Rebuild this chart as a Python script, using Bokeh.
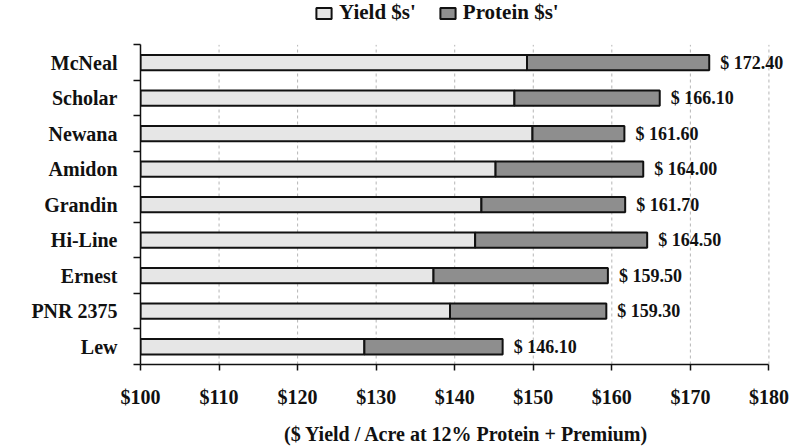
from bokeh.plotting import figure
from bokeh.models import ColumnDataSource, FixedTicker, Range1d, Legend, LegendItem
from bokeh.core.properties import value
from bokeh.embed import file_html
from bokeh.resources import INLINE

varieties = ["McNeal", "Scholar", "Newana", "Amidon", "Grandin", "Hi-Line", "Ernest", "PNR 2375", "Lew"]
yield_vals = [149.2, 147.6, 149.9, 145.2, 143.4, 142.6, 137.3, 139.4, 128.5]
totals = [172.40, 166.10, 161.60, 164.00, 161.70, 164.50, 159.50, 159.30, 146.10]
x_ticks = [100, 110, 120, 130, 140, 150, 160, 170, 180]

FONT = "Liberation Serif"
INK = "#111111"
n = len(varieties)
ypos = [n - 1 - i for i in range(n)]
base = x_ticks[0]
ylo, yhi = -0.5, n - 0.5

src = ColumnDataSource(dict(
    y=ypos,
    base=[base] * n,
    yld=yield_vals,
    tot=totals,
    lab=[f"$ {v:.2f}" for v in totals],
))

p = figure(width=796, height=447, output_backend="svg", toolbar_location=None,
           x_range=Range1d(x_ticks[0], 183.0), y_range=Range1d(ylo, yhi + 1.25),
           min_border_left=140, min_border_right=4, min_border_top=0, min_border_bottom=80)
p.outline_line_color = None
p.background_fill_color = "white"
p.border_fill_color = "white"

# dashed vertical grid lines only within the category area
p.segment(x0=x_ticks[1:], x1=x_ticks[1:], y0=[ylo] * (len(x_ticks) - 1), y1=[yhi] * (len(x_ticks) - 1),
          line_color="#b5b5b5", line_dash="3 3", line_width=1)

r1 = p.hbar(y="y", left="base", right="yld", height=0.43, source=src,
            fill_color="#e6e6e6", line_color=INK, line_width=2)
r2 = p.hbar(y="y", left="yld", right="tot", height=0.43, source=src,
            fill_color="#8e8e8e", line_color=INK, line_width=2)
p.text(x="tot", y="y", text="lab", source=src, x_offset=11,
       text_font=value(FONT), text_font_style="bold", text_font_size="18px",
       text_baseline="middle", text_align="left", text_color=INK)

# x axis
p.xaxis.bounds = (x_ticks[0], x_ticks[-1])
p.xaxis.ticker = FixedTicker(ticks=x_ticks)
p.xaxis.major_label_overrides = {t: f"${t}" for t in x_ticks}
p.xaxis.major_label_text_font = FONT
p.xaxis.major_label_text_font_style = "bold"
p.xaxis.major_label_text_font_size = "20px"
p.xaxis.major_label_text_color = INK
p.xaxis.major_label_standoff = 15
p.xaxis.major_tick_out = 6
p.xaxis.major_tick_in = 0
p.xaxis.minor_tick_line_color = None
p.xaxis.axis_line_color = INK
p.xaxis.axis_line_width = 1.5
p.xaxis.major_tick_line_color = INK
p.xaxis.major_tick_line_width = 1.5
p.xaxis.axis_label = "($ Yield / Acre at 12% Protein + Premium)"
p.xaxis.axis_label_text_font = FONT
p.xaxis.axis_label_text_font_style = "bold"
p.xaxis.axis_label_text_font_size = "20px"
p.xaxis.axis_label_text_color = INK
p.xaxis.axis_label_standoff = 12

# y axis
p.yaxis.bounds = (ylo, yhi)
p.yaxis.ticker = FixedTicker(ticks=ypos, minor_ticks=[i - 0.5 for i in range(n + 1)])
p.yaxis.major_label_overrides = {y: v for y, v in zip(ypos, varieties)}
p.yaxis.major_label_text_font = FONT
p.yaxis.major_label_text_font_style = "bold"
p.yaxis.major_label_text_font_size = "20px"
p.yaxis.major_label_text_color = INK
p.yaxis.major_label_standoff = 16
p.yaxis.major_tick_out = 0
p.yaxis.major_tick_in = 0
p.yaxis.major_tick_line_color = None
p.yaxis.minor_tick_out = 7
p.yaxis.minor_tick_in = 0
p.yaxis.minor_tick_line_color = INK
p.yaxis.minor_tick_line_width = 1.5
p.yaxis.axis_line_color = INK
p.yaxis.axis_line_width = 1.5

p.xgrid.grid_line_color = None
p.ygrid.grid_line_color = None

legend = Legend(items=[LegendItem(label="Yield $s'", renderers=[r1]),
                       LegendItem(label="Protein $s'", renderers=[r2])],
                orientation="horizontal", location=(174, 339),
                label_text_font=FONT, label_text_font_style="bold",
                label_text_font_size="21px", label_text_color=INK,
                glyph_width=19, glyph_height=14, spacing=22, label_standoff=6,
                border_line_color=None, background_fill_alpha=0,
                padding=2, margin=0)
p.add_layout(legend, "center")

open("out.html", "w").write(file_html(p, INLINE))
